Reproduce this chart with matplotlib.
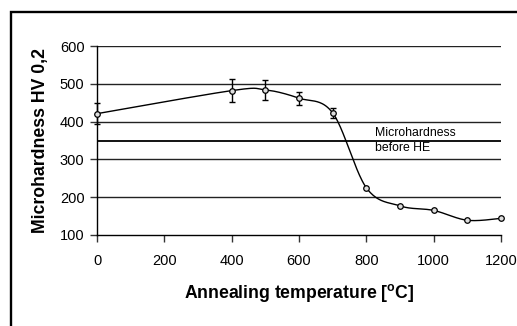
import matplotlib
matplotlib.use('Agg')
import matplotlib.pyplot as plt
import numpy as np
from matplotlib.patches import Rectangle

plt.rcParams['font.family'] = ['Liberation Sans', 'DejaVu Sans']
plt.rcParams['mathtext.fontset'] = 'custom'
plt.rcParams['mathtext.bf'] = 'Liberation Sans:bold'
plt.rcParams['mathtext.rm'] = 'Liberation Sans'

# data
temp = [0, 400, 500, 600, 700, 800, 900, 1000, 1100, 1200]
hv = [421, 482, 484, 462, 423, 225, 177, 165, 139, 144]
err = [28, 30, 27, 17, 13, 0, 0, 0, 0, 0]
hv_before = 350
xticks = [0, 200, 400, 600, 800, 1000, 1200]
yticks = [100, 200, 300, 400, 500, 600]


def excel_smooth(x, y, n=40):
    # bezier smoothing like the spreadsheet "smoothed line"
    x = np.asarray(x, float)
    y = np.asarray(y, float)
    px, py = [], []
    for i in range(len(x) - 1):
        i0 = max(i - 1, 0)
        i3 = min(i + 2, len(x) - 1)
        c1x = x[i] + (x[i + 1] - x[i0]) / 6
        c1y = y[i] + (y[i + 1] - y[i0]) / 6
        c2x = x[i + 1] - (x[i3] - x[i]) / 6
        c2y = y[i + 1] - (y[i3] - y[i]) / 6
        t = np.linspace(0, 1, n)
        a = (1 - t) ** 3
        b = 3 * (1 - t) ** 2 * t
        c = 3 * (1 - t) * t ** 2
        d = t ** 3
        px.extend(a * x[i] + b * c1x + c * c2x + d * x[i + 1])
        py.extend(a * y[i] + b * c1y + c * c2y + d * y[i + 1])
    return px, py


fig = plt.figure(figsize=(5.17, 3.26), dpi=100)
ax = fig.add_axes([97 / 517, 91 / 326, 404 / 517, 189 / 326])

for yv in yticks[1:]:
    ax.axhline(yv, color='#222222', lw=1.0, zorder=1)
ax.axhline(hv_before, color='black', lw=1.3, zorder=1)
ax.text(826, hv_before, 'Microhardness\nbefore HE', fontsize=8.8, va='center', ha='left',
        linespacing=1.25)

sx, sy = excel_smooth(temp, hv)
ax.plot(sx, sy, color='black', lw=1.0, zorder=2)

mask = [e > 0 for e in err]
ax.errorbar([t for t, m in zip(temp, mask) if m], [h for h, m in zip(hv, mask) if m],
            yerr=[e for e, m in zip(err, mask) if m], fmt='none', ecolor='black',
            elinewidth=1.0, capsize=2.5, capthick=1.0, zorder=3, clip_on=False)
ax.plot(temp, hv, 'o', ms=4, mfc='#dddddd', mec='black', mew=0.9, zorder=4, clip_on=False)

ax.set_xlim(0, 1200)
ax.set_ylim(100, 600)
ax.set_xticks(xticks)
ax.set_yticks(yticks)
ax.tick_params(labelsize=10.5, length=5, width=1, color='#333333')
ax.tick_params(axis='y', pad=4)
ax.tick_params(axis='x', pad=9)
for s in ['top', 'right']:
    ax.spines[s].set_visible(False)
ax.spines['left'].set_linewidth(1.0)
ax.spines['bottom'].set_linewidth(1.0)

ax.set_xlabel('Annealing temperature [$^{\\mathbf{o}}$C]', fontsize=12.7, fontweight='bold')
ax.set_ylabel('Microhardness HV 0,2', fontsize=12.7, fontweight='bold')
ax.xaxis.set_label_coords(0.5, -0.25)
ax.yaxis.set_label_coords(-0.12, 0.5)

fig.patches.append(Rectangle((11 / 517, -0.1), 1.2, (326 - 12) / 326 + 0.1,
                             transform=fig.transFigure, fill=False, ec='black', lw=1.7))

plt.savefig('out.png', dpi=100)
